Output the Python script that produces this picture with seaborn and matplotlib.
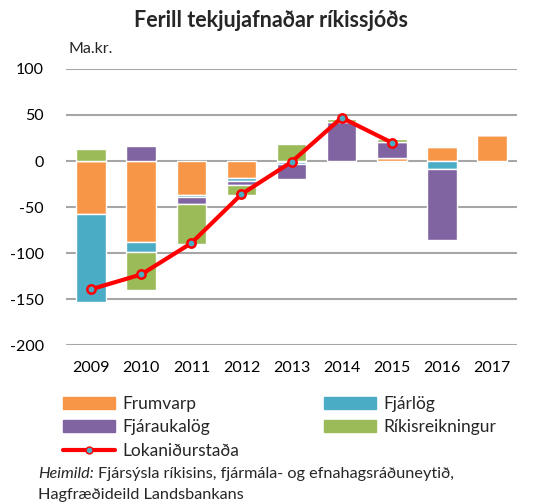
import numpy as np
import pandas as pd
import matplotlib
matplotlib.use("Agg")
import matplotlib.pyplot as plt
import seaborn as sns
from matplotlib.patches import Patch
from matplotlib.lines import Line2D

# Data (Ma.kr.)
years = ['2009', '2010', '2011', '2012', '2013', '2014', '2015', '2016', '2017']
frumvarp = [-57, -88, -37, -18.5, -1.5, 0, 3, 15, 28.5]
fjarlog = [-96, -11, -1.5, -3, -2, 0, 0, -9, 0]
fjaraukalog = [0, 16, -8, -5, -16.5, 42.5, 18, -76.5, 0]
rikisreikningur = [13, -41, -43, -10, 19, 3.5, 2.5, 0, 0]
line_years = ['2009', '2010', '2011', '2012', '2013', '2014', '2015']
lokanidurstada = [-139, -123, -89, -36, -1, 47, 20]

sns.set_style("white")
plt.rcParams['font.family'] = ['Lato', 'DejaVu Sans']
plt.rcParams['axes.unicode_minus'] = False

series = [
    ('Frumvarp', frumvarp, '#F79646'),
    ('Fjárlög', fjarlog, '#4BACC6'),
    ('Fjáraukalög', fjaraukalog, '#8064A2'),
    ('Ríkisreikningur', rikisreikningur, '#9BBB59'),
]

fig = plt.figure(figsize=(5.33, 5.04), dpi=100)
ax = fig.add_axes([0.124, 0.3145, 0.846, 0.549])

x = np.arange(len(years))
pos_base = np.zeros(len(years))
neg_base = np.zeros(len(years))
for name, vals, color in series:
    vals = np.array(vals, dtype=float)
    bottom = np.where(vals >= 0, pos_base, neg_base)
    ax.bar(x, vals, bottom=bottom, width=0.59, color=color, zorder=2)
    pos_base += np.where(vals >= 0, vals, 0)
    neg_base += np.where(vals < 0, vals, 0)

df_line = pd.DataFrame({'x': [years.index(y) for y in line_years], 'v': lokanidurstada})
sns.lineplot(data=df_line, x='x', y='v', ax=ax, color='#FF0000', linewidth=3,
             marker='o', markersize=6, markerfacecolor='#4BACC6',
             markeredgecolor='#FF0000', markeredgewidth=1.8, zorder=4)

ax.set_xlim(-0.5, len(years) - 0.5)
ax.set_ylim(-200, 100)
ax.set_yticks(range(-200, 101, 50))
ax.set_xticks(x)
ax.set_xticklabels(years)
ax.tick_params(axis='both', length=0, labelsize=11.5, colors='black')
ax.tick_params(axis='y', pad=16)
ax.tick_params(axis='x', pad=11)
ax.set_xlabel('')
ax.set_ylabel('')
ax.grid(axis='y', color='#A6A6A6', linewidth=1.5, zorder=0)
ax.set_axisbelow(True)
for s in ax.spines.values():
    s.set_visible(False)

fig.text(0.509, 0.96, 'Ferill tekjujafnaðar ríkissjóðs', ha='center', va='center',
         fontsize=15.5, fontweight='bold')
fig.text(0.128, 0.903, 'Ma.kr.', ha='left', va='center', fontsize=11.5)

handles = [Patch(color=c) for _, _, c in series]
labels = [n for n, _, _ in series]
handles.append(Line2D([0], [0], color='#FF0000', linewidth=3, marker='o', markersize=5,
                      markerfacecolor='#4BACC6', markeredgecolor='#FF0000'))
labels.append('Lokaniðurstaða')
# reorder so it reads row by row in two columns
order = [0, 2, 4, 1, 3]
leg = fig.legend([handles[i] for i in order], [labels[i] for i in order], ncol=2,
                 loc='upper left', bbox_to_anchor=(0.105, 0.228), frameon=False,
                 fontsize=12.5, handlelength=3.0, handleheight=0.7,
                 columnspacing=4.9, labelspacing=0.42, handletextpad=0.4,
                 borderaxespad=0)

fig.canvas.draw()
r = fig.canvas.get_renderer()
t1 = fig.text(0.071, 0.059, 'Heimild:', ha='left', va='center', fontsize=11.7, style='italic')
bb = t1.get_window_extent(r)
fig.text(bb.x1 / fig.bbox.width + 0.008, 0.059,
         'Fjársýsla ríkisins, fjármála- og efnahagsráðuneytið,',
         ha='left', va='center', fontsize=11.7)
fig.text(0.071, 0.017, 'Hagfræðideild Landsbankans', ha='left', va='center', fontsize=11.7)

fig.savefig('out.png', dpi=100)
